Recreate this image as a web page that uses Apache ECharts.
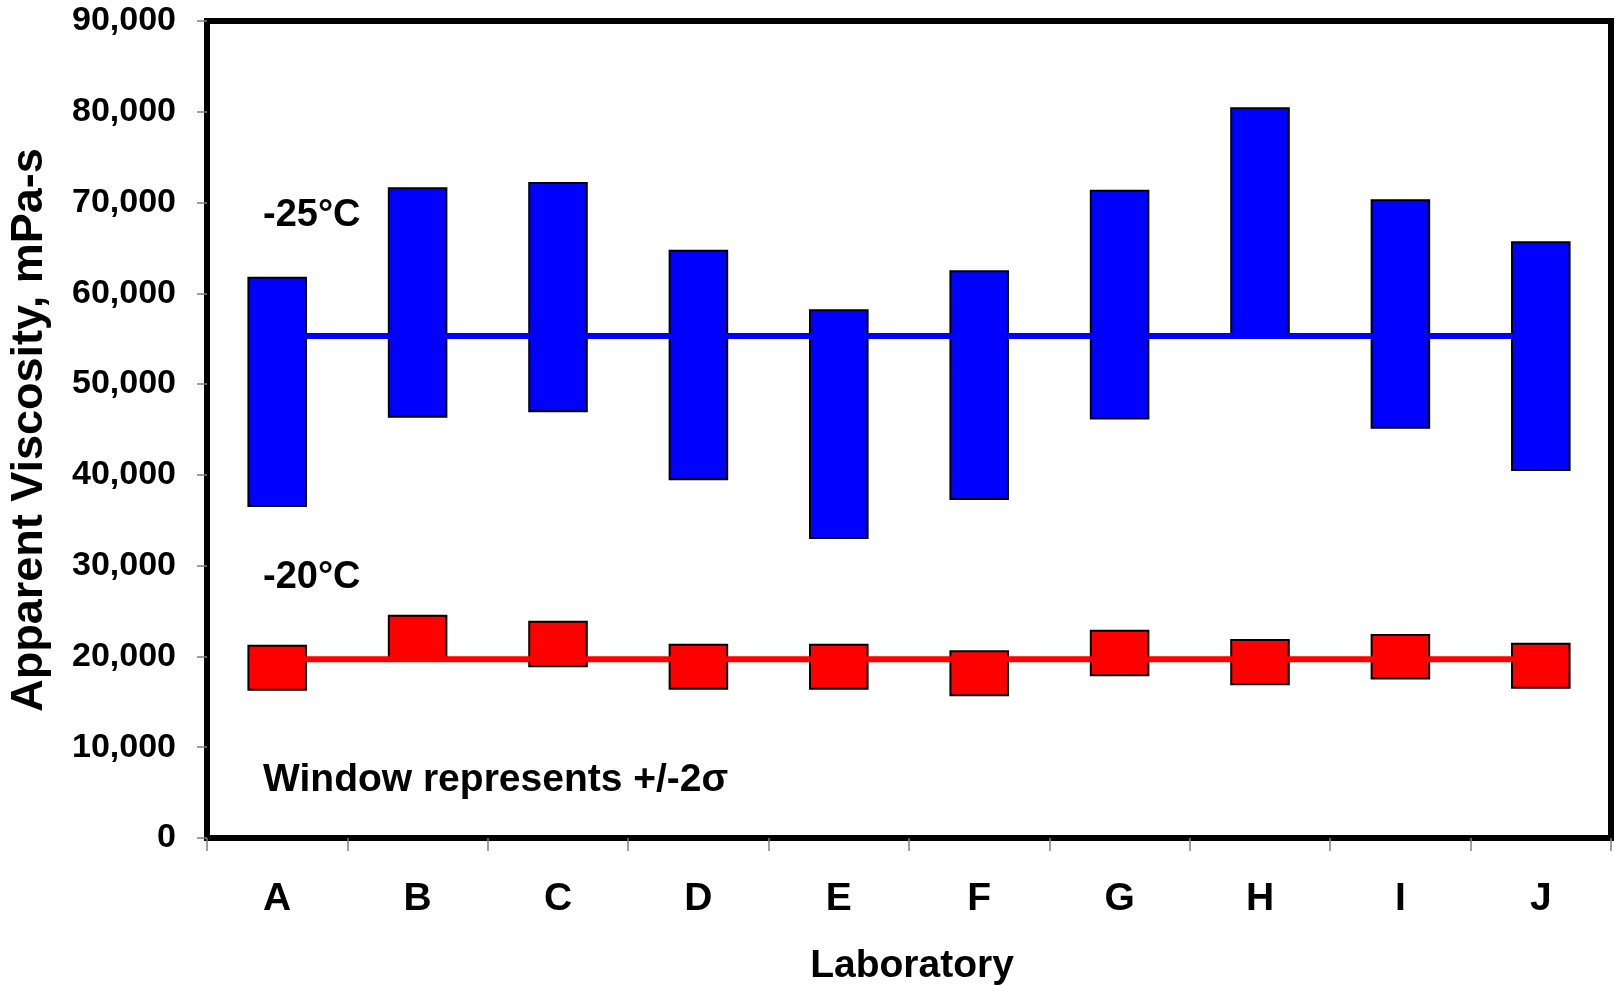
<!DOCTYPE html>
<html>
<head>
<meta charset="utf-8">
<script src="https://cdn.jsdelivr.net/npm/echarts@6/dist/echarts.min.js"></script>
<style>
  html, body { margin: 0; padding: 0; background: #fff; }
  #chart { width: 1615px; height: 985px; }
</style>
</head>
<body>
<div id="chart"></div>
<script>
// Laboratories
const labs = ['A', 'B', 'C', 'D', 'E', 'F', 'G', 'H', 'I', 'J'];

// -25°C window (mean +/- 2 sigma), mPa-s
const low25  = [36560, 46410, 47000, 39510, 33050, 37350, 46210, 55250, 45180, 40540];
const high25 = [61720, 71570, 72160, 64680, 58140, 62440, 71290, 80390, 70260, 65620];
const mean25 = [55300, 55300, 55300, 55300, 55300, 55300, 55300, 55300, 55300, 55300];

// -20°C window (mean +/- 2 sigma), mPa-s
const low20  = [16320, 19630, 18930, 16430, 16430, 15730, 17940, 16950, 17570, 16540];
const high20 = [21170, 24480, 23810, 21280, 21280, 20580, 22820, 21800, 22350, 21390];
const mean20 = [19700, 19700, 19700, 19700, 19700, 19700, 19700, 19700, 19700, 19700];

// Value axis
const yMin = 0, yMax = 90000, yStep = 10000;

const FONT = '"Liberation Sans", Arial, sans-serif';

function renderWindow(params, api) {
  const i = api.value(0), lo = api.value(1), hi = api.value(2);
  const pTop = api.coord([i, hi]);
  const pBot = api.coord([i, lo]);
  const w = api.size([1, 0])[0] * 0.41;
  return {
    type: 'rect',
    shape: { x: pTop[0] - w / 2, y: pTop[1], width: w, height: pBot[1] - pTop[1] },
    style: { fill: api.visual('color'), stroke: '#000', lineWidth: 2 }
  };
}

const chart = echarts.init(document.getElementById('chart'), null, { renderer: 'canvas' });
chart.setOption({
  animation: false,
  backgroundColor: '#fff',
  grid: {
    left: 207, right: 4, top: 21, bottom: 147,
    show: true, borderColor: '#000', borderWidth: 6, backgroundColor: 'transparent'
  },
  xAxis: {
    type: 'category',
    data: labs,
    boundaryGap: true,
    axisLine: { show: false },
    axisTick: { show: true, length: 13, lineStyle: { color: '#808080', width: 1.5 } },
    axisLabel: { margin: 42, fontFamily: FONT, fontWeight: 'bold', fontSize: 39, color: '#000' },
    splitLine: { show: false }
  },
  yAxis: {
    type: 'value',
    min: yMin, max: yMax, interval: yStep,
    axisLine: { show: false },
    axisTick: { show: true, length: 10, lineStyle: { color: '#808080', width: 1.5 } },
    axisLabel: {
      margin: 31, fontFamily: FONT, fontWeight: 'bold', fontSize: 34, color: '#000',
      formatter: v => v.toLocaleString('en-US')
    },
    splitLine: { show: false }
  },
  series: [
    {
      name: '-25°C', type: 'custom', renderItem: renderWindow,
      itemStyle: { color: '#0000ff' },
      encode: { x: 0, y: [1, 2] },
      data: labs.map((l, i) => [i, low25[i], high25[i]]), z: 2
    },
    {
      name: '-20°C', type: 'custom', renderItem: renderWindow,
      itemStyle: { color: '#ff0000' },
      encode: { x: 0, y: [1, 2] },
      data: labs.map((l, i) => [i, low20[i], high20[i]]), z: 2
    },
    {
      name: '-25°C mean', type: 'line', data: mean25, symbol: 'none',
      lineStyle: { color: '#0000ff', width: 6 }, z: 3
    },
    {
      name: '-20°C mean', type: 'line', data: mean20, symbol: 'none',
      lineStyle: { color: '#ff0000', width: 6 }, z: 3
    }
  ],
  graphic: [
    {
      type: 'text', x: 30, y: 430, rotation: Math.PI / 2,
      style: { text: 'Apparent Viscosity, mPa-s', font: 'bold 45px ' + FONT, fill: '#000', align: 'center', verticalAlign: 'middle' }
    },
    {
      type: 'text', x: 912, y: 966,
      style: { text: 'Laboratory', font: 'bold 39px ' + FONT, fill: '#000', align: 'center', verticalAlign: 'middle' }
    },
    {
      type: 'text', x: 263, y: 216,
      style: { text: '-25°C', font: 'bold 38px ' + FONT, fill: '#000', align: 'left', verticalAlign: 'middle' }
    },
    {
      type: 'text', x: 263, y: 578,
      style: { text: '-20°C', font: 'bold 38px ' + FONT, fill: '#000', align: 'left', verticalAlign: 'middle' }
    },
    {
      type: 'text', x: 263, y: 780,
      style: { text: 'Window represents +/-2σ', font: 'bold 39px ' + FONT, fill: '#000', align: 'left', verticalAlign: 'middle' }
    }
  ]
});
</script>
</body>
</html>
